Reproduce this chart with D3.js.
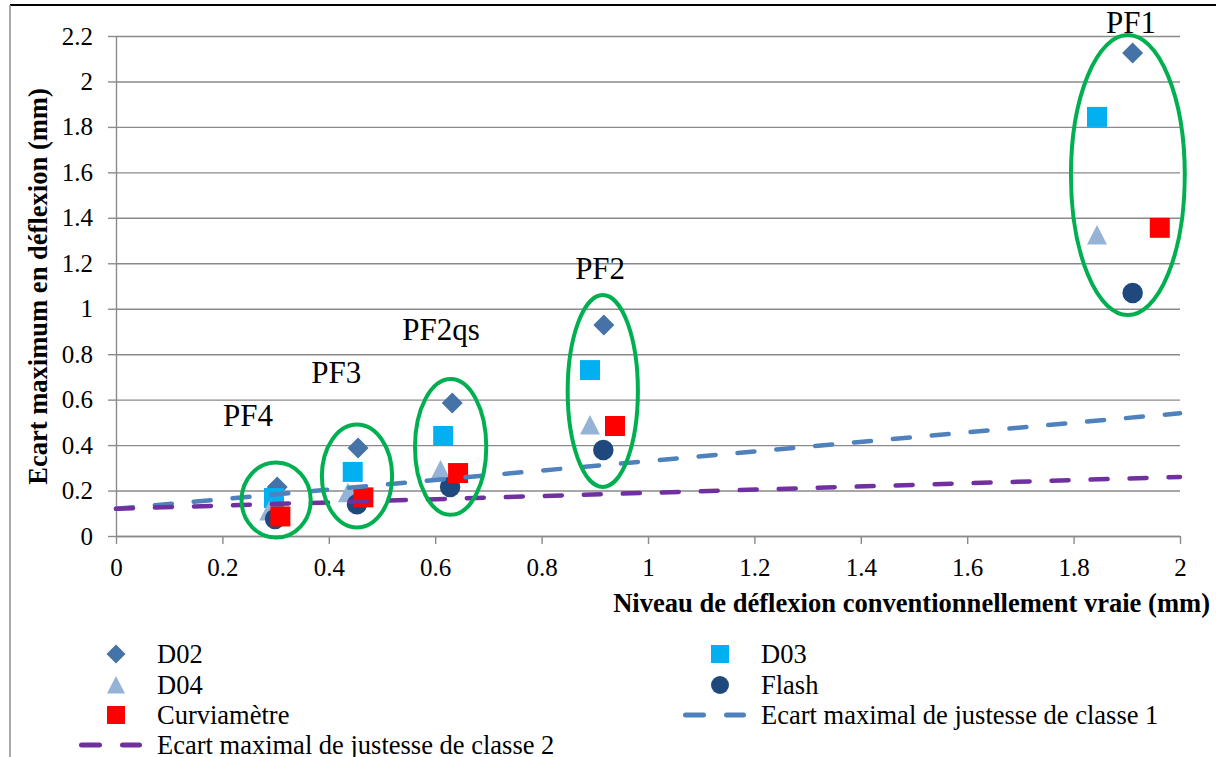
<!DOCTYPE html>
<html><head><meta charset="utf-8">
<script src="https://cdn.jsdelivr.net/npm/d3@7"></script>
<style>
body{margin:0;background:#fff}
svg{display:block}
svg text{font-family:'Liberation Serif','Times New Roman',Tinos,Times,'DejaVu Serif','Noto Serif',serif !important;fill:#000}
</style>
</head><body>
<svg id="c" width="1216" height="757"></svg>
<script>
// ---------- DATA ----------
const seriesNames = ["D02","D03","D04","Flash","Curviamètre"];
const d02X   = [0.303, 0.455, 0.632, 0.917, 1.911];
const d02Y   = [0.216, 0.387, 0.585, 0.928, 2.125];
const d03X   = [0.297, 0.445, 0.615, 0.891, 1.844];
const d03Y   = [0.167, 0.282, 0.440, 0.730, 1.844];
const d04X   = [0.288, 0.436, 0.610, 0.891, 1.844];
const d04Y   = [0.110, 0.190, 0.290, 0.488, 1.324];
const flashX = [0.299, 0.453, 0.628, 0.916, 1.911];
const flashY = [0.075, 0.140, 0.216, 0.378, 1.069];
const curvX  = [0.309, 0.465, 0.643, 0.938, 1.962];
const curvY  = [0.086, 0.170, 0.277, 0.484, 1.356];

const limitX  = [0, 2];
const class1Y = [0.12, 0.54];
const class2Y = [0.12, 0.26];
const class1Name = "Ecart maximal de justesse de classe 1";
const class2Name = "Ecart maximal de justesse de classe 2";

const xTicks = [0,0.2,0.4,0.6,0.8,1,1.2,1.4,1.6,1.8,2];
const yTicks = [0,0.2,0.4,0.6,0.8,1,1.2,1.4,1.6,1.8,2,2.2];
const xTitle = "Niveau de déflexion conventionnellement vraie (mm)";
const yTitle = "Ecart maximum en déflexion (mm)";

// group annotations (data units)
const groupNames = ["PF4","PF3","PF2qs","PF2","PF1"];
const groupLabelX = [0.248, 0.414, 0.611, 0.910, 1.908];
const groupLabelY = [0.484, 0.673, 0.862, 1.131, 2.213];
const ellipseCX = [0.301, 0.453, 0.629, 0.915, 1.902];
const ellipseCY = [0.158, 0.264, 0.392, 0.638, 1.588];
const ellipseRX = [0.065, 0.066, 0.067, 0.066, 0.107];
const ellipseRY = [0.165, 0.227, 0.299, 0.422, 0.616];

// ---------- STYLE ----------
const FONT = "'Liberation Serif','Times New Roman',Tinos,Times,'DejaVu Serif','Noto Serif',serif";
const colors = {D02:"#4572A7", D03:"#00B0F0", D04:"#95B3D7", Flash:"#1F497D", "Curviamètre":"#FF0000"};
const class1Color = "#4F81BD", class2Color = "#7030A0";
const gridColor = "#8A8A8A";

const svg = d3.select("#c").attr("font-family", FONT);
const L = 116, R = 1180, T = 36, B = 536;
const x = d3.scaleLinear().domain([0,2]).range([L,R]);
const y = d3.scaleLinear().domain([0,2.2]).range([B,T]);

// frame
svg.append("line").attr("x1",10).attr("x2",1216).attr("y1",5).attr("y2",5).attr("stroke","#000").attr("stroke-width",2.2);
svg.append("line").attr("x1",10).attr("x2",10).attr("y1",5).attr("y2",757).attr("stroke","#8c8c8c").attr("stroke-width",1.5);

// gridlines
const grid = svg.append("g").attr("transform",`translate(${L},0)`)
  .call(d3.axisLeft(y).tickValues(yTicks).tickSize(-(R-L)).tickFormat(""));
grid.select(".domain").remove();
grid.selectAll("line").attr("stroke",gridColor).attr("stroke-width",1.4);

// y axis
const ya = svg.append("g").attr("transform",`translate(${L},0)`)
  .call(d3.axisLeft(y).tickValues(yTicks).tickSize(8).tickSizeOuter(0).tickPadding(15).tickFormat(d3.format("~g")));
ya.attr("font-family", FONT).attr("font-size", 25);
ya.select(".domain").attr("stroke",gridColor).attr("stroke-width",1.4);
ya.selectAll("line").attr("stroke",gridColor).attr("stroke-width",1.4);

// x axis
const xa = svg.append("g").attr("transform",`translate(0,${B})`)
  .call(d3.axisBottom(x).tickValues(xTicks).tickSize(8).tickSizeOuter(0).tickPadding(14).tickFormat(d3.format("~g")));
xa.attr("font-family", FONT).attr("font-size", 25);
xa.select(".domain").attr("stroke",gridColor).attr("stroke-width",1.4);
xa.selectAll("line").attr("stroke",gridColor).attr("stroke-width",1.4);

// titles (fit to width)
function fit(t, target){
  const w = t.node().getComputedTextLength();
  const fs = parseFloat(t.attr("font-size"));
  t.attr("font-size", fs*target/w);
}
const xt = svg.append("text").attr("x",1210).attr("y",612).attr("text-anchor","end")
  .attr("font-weight","bold").attr("font-size",22).text(xTitle);
fit(xt, 597);
const yt = svg.append("text").attr("transform","translate(47,286.5) rotate(-90)").attr("text-anchor","middle")
  .attr("font-weight","bold").attr("font-size",22).text(yTitle);
fit(yt, 397);

// symbols
function shapePath(kind, s){
  const h = s/2;
  if(kind==="diamond") return `M0,${-h}L${h},0L0,${h}L${-h},0Z`;
  if(kind==="square") return `M${-h},${-h}H${h}V${h}H${-h}Z`;
  if(kind==="triangle") return `M0,${-h}L${h},${h*0.95}L${-h},${h*0.95}Z`;
  if(kind==="circle") return `M${h},0A${h},${h} 0 1,1 ${-h},0A${h},${h} 0 1,1 ${h},0Z`;
}
const series = [
  {name:"D02", xs:d02X, ys:d02Y, kind:"diamond", size:21},
  {name:"D03", xs:d03X, ys:d03Y, kind:"square", size:20},
  {name:"D04", xs:d04X, ys:d04Y, kind:"triangle", size:20},
  {name:"Flash", xs:flashX, ys:flashY, kind:"circle", size:20.5},
  {name:"Curviamètre", xs:curvX, ys:curvY, kind:"square", size:20}
];
const pts = svg.append("g");
series.forEach(s=>{
  pts.append("g").selectAll("path").data(s.xs.map((v,i)=>[v,s.ys[i]])).join("path")
    .attr("d", shapePath(s.kind, s.size))
    .attr("transform", d=>`translate(${x(d[0])},${y(d[1])})`)
    .attr("fill", colors[s.name]);
});

// limit lines
const line = d3.line().x(d=>x(d[0])).y(d=>y(d[1]));
[[class1Y,class1Color],[class2Y,class2Color]].forEach(([ys,c])=>{
  svg.append("path").attr("d", line(limitX.map((v,i)=>[v,ys[i]])))
    .attr("fill","none").attr("stroke",c).attr("stroke-width",4.5)
    .attr("stroke-linecap","round").attr("stroke-dasharray","17 22");
});

// ellipses
svg.append("g").selectAll("ellipse").data(groupNames.map((n,i)=>i)).join("ellipse")
  .attr("cx",i=>x(ellipseCX[i])).attr("cy",i=>y(ellipseCY[i]))
  .attr("rx",i=>x(ellipseRX[i])-x(0)).attr("ry",i=>y(0)-y(ellipseRY[i]))
  .attr("fill","none").attr("stroke","#00B050").attr("stroke-width",4);

// group labels
svg.append("g").selectAll("text").data(groupNames.map((n,i)=>i)).join("text")
  .attr("x",i=>x(groupLabelX[i])).attr("y",i=>y(groupLabelY[i]))
  .attr("text-anchor","middle").attr("font-size",31).text(i=>groupNames[i]);

// legend
const legendItems = [
  {name:"D02", kind:"diamond", col:0, row:0},
  {name:"D03", kind:"square", col:1, row:0},
  {name:"D04", kind:"triangle", col:0, row:1},
  {name:"Flash", kind:"circle", col:1, row:1},
  {name:"Curviamètre", kind:"square", col:0, row:2},
  {name:class1Name, kind:"line", color:class1Color, col:1, row:2},
  {name:class2Name, kind:"line", color:class2Color, col:0, row:3}
];
const colX = [116, 720], textX = [157, 761], rowY = [654, 685, 715, 745];
const lg = svg.append("g");
legendItems.forEach(it=>{
  const cx = colX[it.col], cy = rowY[it.row];
  if(it.kind==="line"){
    lg.append("line").attr("x1",cx-34.5).attr("x2",cx+23.5).attr("y1",cy).attr("y2",cy)
      .attr("stroke",it.color).attr("stroke-width",5).attr("stroke-linecap","round")
      .attr("stroke-dasharray","18 23");
  } else {
    lg.append("path").attr("d",shapePath(it.kind, it.kind==="diamond"?19:18))
      .attr("transform",`translate(${cx},${cy})`).attr("fill",colors[it.name]);
  }
  lg.append("text").attr("x",textX[it.col]).attr("y",cy+8.5).attr("font-size",26.5).text(it.name);
});
</script>
</body></html>
